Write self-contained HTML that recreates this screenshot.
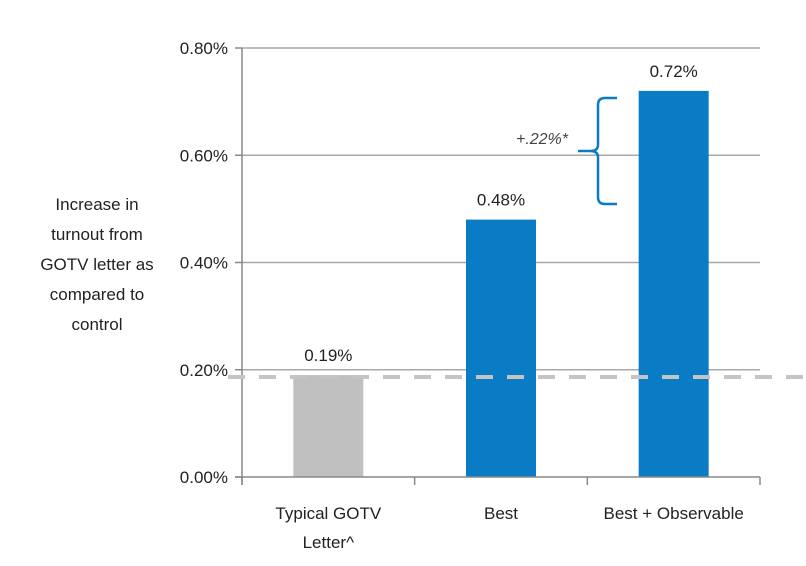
<!DOCTYPE html>
<html><head><meta charset="utf-8"><style>
body{margin:0;background:#fff;}
svg{display:block;font-family:"Liberation Sans",sans-serif;}
</style></head><body>
<svg id="chart" width="806" height="566" viewBox="0 0 806 566">
<g id="grid"></g><g id="bars"></g><g id="axes"></g>
<text font-size="17" fill="#222" text-anchor="middle">
<tspan x="97" y="210">Increase in</tspan><tspan x="97" y="240">turnout from</tspan><tspan x="97" y="270">GOTV letter as</tspan><tspan x="97" y="300">compared to</tspan><tspan x="97" y="330">control</tspan></text>
<line x1="228" y1="377" x2="806" y2="377" stroke="#c4c4c4" stroke-width="4" stroke-dasharray="17,14"/>
<path d="M617,98 L605,98 Q598,98 598,105 L598,145 Q598,151 590,151 L578,151 M590,151 Q598,151 598,157 L598,197 Q598,204 605,204 L617,204" fill="none" stroke="#0a7cc6" stroke-width="2.5"/>
<text x="542" y="144" font-size="16" font-style="italic" fill="#444" text-anchor="middle">+.22%*</text>
</svg>
<script>
const categories=["Typical GOTV|Letter^","Best","Best + Observable"];
const values=[0.19,0.48,0.72];
const valueLabels=["0.19%","0.48%","0.72%"];
const colors=["#c0c0c0","#0a7cc6","#0a7cc6"];
const yTicks=[0,0.2,0.4,0.6,0.8];
const yTickLabels=["0.00%","0.20%","0.40%","0.60%","0.80%"];
const NS="http://www.w3.org/2000/svg";
const x0=242,x1=760,y0=477,yTop=48,ymax=0.8;
const y=v=>y0-(v/ymax)*(y0-yTop);
const band=(x1-x0)/categories.length;
const xc=i=>x0+band*(i+0.5);
function mk(t,a,p){const e=document.createElementNS(NS,t);for(const k in a)e.setAttribute(k,a[k]);p.appendChild(e);return e;}
const grid=document.getElementById('grid'),bars=document.getElementById('bars'),axes=document.getElementById('axes');
yTicks.forEach((v,i)=>{
 if(v>0){const g=mk('line',{x1:x0,x2:x1,y1:y(v),y2:y(v),stroke:'#a8a8a8','stroke-width':1.5},grid);
 
 }
 const tk=mk('line',{x1:x0-7,x2:x0,y1:y(v),y2:y(v),stroke:'#888','stroke-width':1.5},axes);
 
 
 const t=mk('text',{x:x0-14,y:y(v)+6,'font-size':17,fill:'#222','text-anchor':'end'},axes);
 t.textContent=yTickLabels[i];
 
 
});
values.forEach((v,i)=>{
 const r=mk('rect',{x:xc(i)-35,y:y(v),width:70,height:y0-y(v),fill:colors[i]},bars);
 
 
 const t=mk('text',{x:xc(i),y:y(v)-14,'font-size':17,fill:'#222','text-anchor':'middle'},bars);
 t.textContent=valueLabels[i];
 
 
 const parts=categories[i].split('|');
 parts.forEach((p,j)=>{const c=mk('text',{x:xc(i),y:519+j*29,'font-size':17,fill:'#222','text-anchor':'middle'},axes);
 c.textContent=p;
 
 });
});
for(let i=0;i<=categories.length;i++){const t=mk('line',{x1:x0+band*i,x2:x0+band*i,y1:y0,y2:y0+8,stroke:'#888','stroke-width':1.5},axes);
 
 }
const ya=mk('line',{x1:x0,x2:x0,y1:yTop,y2:y0+8,stroke:'#888','stroke-width':1.5},axes);


const xa=mk('line',{x1:x0-7,x2:x1,y1:y0,y2:y0,stroke:'#888','stroke-width':1.5},axes);


</script>
</body></html>
